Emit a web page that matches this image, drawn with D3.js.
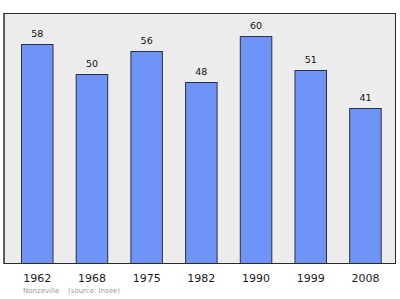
<!DOCTYPE html>
<html>
<head>
<meta charset="utf-8">
<script src="https://cdn.jsdelivr.net/npm/d3@7"></script>
<style>
  html, body { margin: 0; padding: 0; background: #ffffff; }
  svg { display: block; }
</style>
</head>
<body>
<svg id="chart" width="400" height="299"></svg>
<script>
// Population of Nonzeville by census year
const years = ["1962", "1968", "1975", "1982", "1990", "1999", "2008"];
const population = [58, 50, 56, 48, 60, 51, 41];
const caption = ["Nonzeville", "(source: Insee)"];

const svg = d3.select("#chart");
const frame = { left: 4, right: 395.5, top: 13.5, bottom: 263.5 };

const x = d3.scaleBand()
  .domain(years)
  .range([4.6, 397.1])
  .paddingInner(0.424)
  .paddingOuter(0.3);

const y = d3.scaleLinear()
  .domain([0, 66])
  .range([frame.bottom, frame.top]);

// Plot background and frame
svg.append("rect")
  .attr("x", frame.left)
  .attr("y", frame.top)
  .attr("width", frame.right - frame.left)
  .attr("height", frame.bottom - frame.top)
  .attr("fill", "#ececec")
  .attr("stroke", "#2a2a2a")
  .attr("stroke-width", 1);

// Bars
svg.append("g")
  .selectAll("rect")
  .data(population)
  .join("rect")
  .attr("x", (d, i) => x(years[i]) + 0.5)
  .attr("y", d => Math.round(y(d)) + 0.5)
  .attr("width", x.bandwidth())
  .attr("height", d => frame.bottom - Math.round(y(d)) - 0.5)
  .attr("fill", "#6f94f8")
  .attr("stroke", "#2c2f45")
  .attr("stroke-width", 1);

// Frame drawn again on top so the baseline stays crisp
svg.append("rect")
  .attr("x", frame.left)
  .attr("y", frame.top)
  .attr("width", frame.right - frame.left)
  .attr("height", frame.bottom - frame.top)
  .attr("fill", "none")
  .attr("stroke", "#2a2a2a")
  .attr("stroke-width", 1);

// Value labels above bars
svg.append("g")
  .selectAll("text")
  .data(population)
  .join("text")
  .attr("x", (d, i) => x(years[i]) + x.bandwidth() / 2 + 0.5)
  .attr("y", d => y(d) - 7)
  .attr("text-anchor", "middle")
  .attr("font-family", "DejaVu Sans, sans-serif")
  .attr("font-size", 9.5)
  .attr("fill", "#111")
  .text(d => d);

// Year axis labels
const xAxis = d3.axisBottom(x).tickSize(0).tickPadding(0);
const axisG = svg.append("g")
  .attr("transform", `translate(0.5, ${frame.bottom + 18})`)
  .call(xAxis);
axisG.select(".domain").remove();
axisG.selectAll("text")
  .attr("font-family", "DejaVu Sans, sans-serif")
  .attr("font-size", 11)
  .attr("fill", "#1a1a1a")
  .attr("dy", 0);

// Caption
svg.append("text")
  .attr("x", 23)
  .attr("y", 293)
  .attr("font-family", "DejaVu Sans, sans-serif")
  .attr("font-size", 7)
  .attr("fill", "#9a9a9a")
  .text(caption[0]);
svg.append("text")
  .attr("x", 68)
  .attr("y", 293)
  .attr("font-family", "DejaVu Sans, sans-serif")
  .attr("font-size", 7)
  .attr("fill", "#9a9a9a")
  .text(caption[1]);
</script>
</body>
</html>
